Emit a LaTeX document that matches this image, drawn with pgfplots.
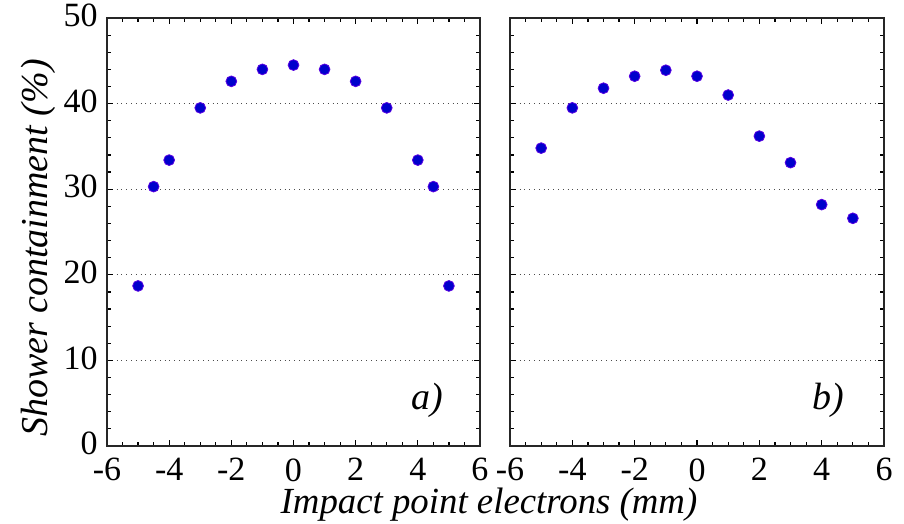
\documentclass[border=0pt]{standalone}
\usepackage{pgfplots}
\pgfplotsset{compat=1.18}
\usepackage{fontspec}
\setmainfont{Liberation Serif}
\definecolor{dotblue}{RGB}{88,0,226}

\pgfplotsset{
  panel/.style={
    scale only axis,
    width=186.5pt, height=214pt,
    xmin=-6, xmax=6, ymin=0, ymax=50,
    xtick={-6,-4,-2,0,2,4,6},
    xticklabels={-6,-4,-2,0,2,4,6},
    ytick={0,10,20,30,40,50},
    minor x tick num=3,
    minor y tick num=4,
    tick align=inside,
    major tick length=3pt,
    minor tick length=1.8pt,
    tick style={black, line width=0.6pt},
    axis line style={line width=0.8pt, black!85},
    ymajorgrids=true,
    grid style={dotted, line width=0.6pt, black!70},
    /pgf/number format/assume math mode=true,
    ticklabel style={font=\rmfamily\fontsize{17}{20}\selectfont, inner sep=1pt},
    xticklabel style={yshift=-5pt},
    yticklabel style={xshift=-3.5pt, yshift=1.25pt},
    label style={font=\rmfamily\fontsize{19}{22}\selectfont\itshape},
    every axis plot/.append style={only marks, mark=*, mark size=2.7pt,
      mark options={draw=dotblue, fill=dotblue}},
  },
}

\begin{document}
\begin{tikzpicture}
\useasboundingbox (-53.5pt,-39pt) rectangle (398.5pt,223pt);
\begin{axis}[panel, name=left, at={(0pt,0pt)}, anchor=south west,
  yticklabels={0,10,20,30,40,50},
  ylabel={Shower containment (\%)},
  ylabel style={at={(axis description cs:0,0.5)}, anchor=center,
    yshift=34.5pt, xshift=-8pt}]
\addplot coordinates {
  (-5,18.7) (-4.5,30.3) (-4,33.4) (-3,39.5) (-2,42.6) (-1,44.0) (0,44.5)
  (1,44.0) (2,42.6) (3,39.5) (4,33.4) (4.5,30.3) (5,18.7)
};
\node[font=\fontsize{19}{22}\selectfont\itshape] at (axis cs:4.3,5.3) {a)};
\end{axis}

\begin{axis}[panel, name=right, at={(201.5pt,0pt)}, anchor=south west,
  width=187pt, yticklabels={}]
\addplot coordinates {
  (-5,34.8) (-4,39.5) (-3,41.8) (-2,43.2) (-1,43.9) (0,43.2)
  (1,41.0) (2,36.2) (3,33.1) (4,28.2) (5,26.6)
};
\node[font=\fontsize{19}{22}\selectfont\itshape] at (axis cs:4.2,5.3) {b)};
\end{axis}

\node[anchor=base, font=\fontsize{18.4}{22}\selectfont\itshape] at (191pt,-34pt)
  {Impact point electrons (mm)};
\end{tikzpicture}
\end{document}
